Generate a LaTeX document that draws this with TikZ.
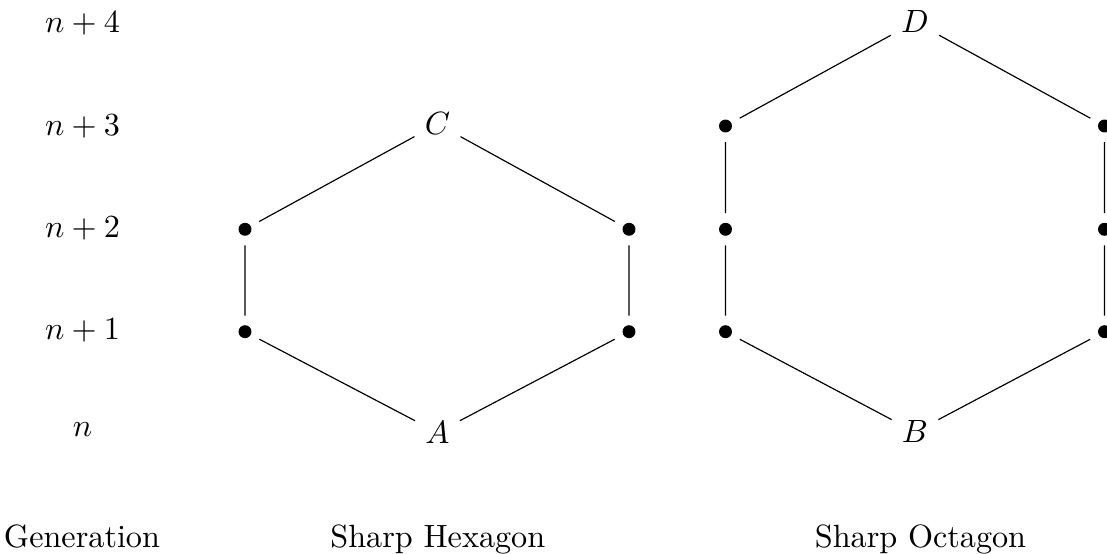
\documentclass[tikz,border=0pt]{standalone}
\begin{document}
\begin{tikzpicture}[
  x=0.34pt, y=-0.34pt,
  font=\fontsize{10.95}{13.6}\selectfont,
  vertex/.style={circle, fill=black, inner sep=0pt, minimum size=4.4pt, outer sep=3.3pt},
  tip/.style={inner sep=3.33pt},
  caption/.style={anchor=base},
  edge/.style={line width=0.4pt}
]
\useasboundingbox (0,0) rectangle (1107,554);

% generation scale
\node (g4) at (82.5,23)  {$n+4$};
\node (g3) at (82.5,126) {$n+3$};
\node (g2) at (82.5,228) {$n+2$};
\node (g1) at (82.5,330) {$n+1$};
\node (g0) at (82.5,430) {$n$};

% sharp hexagon
\node[tip] (C) at (437.5,124) {$C$};
\node[tip] (A) at (437.5,432.5) {$A$};
\node[vertex] (hL2) at (245,229.3) {};
\node[vertex] (hL1) at (245,331.7) {};
\node[vertex] (hR2) at (629,229.3) {};
\node[vertex] (hR1) at (629,331.7) {};

\draw[edge] (C) -- (hL2) -- (hL1) -- (A) -- (hR1) -- (hR2) -- (C);

% sharp octagon
\node[tip] (D) at (915,22) {$D$};
\node[tip] (B) at (915,432) {$B$};
\node[vertex] (oL3) at (725.5,126) {};
\node[vertex] (oL2) at (725.5,229.3) {};
\node[vertex] (oL1) at (725.5,331.7) {};
\node[vertex] (oR3) at (1104.5,126) {};
\node[vertex] (oR2) at (1104.5,229.3) {};
\node[vertex] (oR1) at (1104.5,331.7) {};

\draw[edge] (D) -- (oL3) -- (oL2) -- (oL1) -- (B) -- (oR1) -- (oR2) -- (oR3) -- (D);

% captions
\node[caption] (capG) at (82,547.7) {Generation};
\node[caption] (capH) at (437.8,547.7) {Sharp Hexagon};
\node[caption] (capO) at (920.5,547.7) {Sharp Octagon};
\end{tikzpicture}
\end{document}
